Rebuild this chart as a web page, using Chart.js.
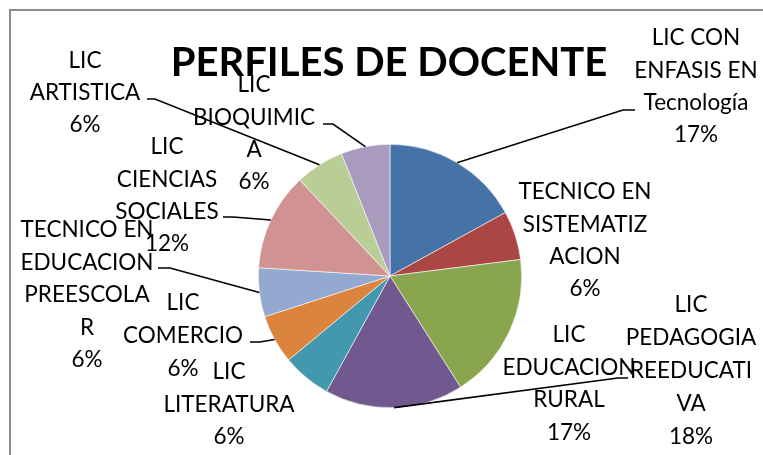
<!DOCTYPE html>
<html>
<head>
<meta charset="utf-8">
<script src="https://cdn.jsdelivr.net/npm/chart.js@4"></script>
<style>
  html, body { margin: 0; padding: 0; background: #fff; }
  #wrap { width: 763px; height: 455px; position: relative; }
</style>
</head>
<body>
<div id="wrap"><canvas id="chartPerfiles" width="763" height="455"></canvas></div>
<script>
// datos del grafico
var categorias = [
    'LIC CON ENFASIS EN Tecnología',
    'TECNICO EN SISTEMATIZACION',
    'LIC PEDAGOGIA REEDUCATIVA',
    'LIC EDUCACION RURAL',
    'LIC LITERATURA',
    'LIC COMERCIO',
    'TECNICO EN EDUCACION PREESCOLAR',
    'LIC CIENCIAS SOCIALES',
    'LIC ARTISTICA',
    'LIC BIOQUIMICA'
];
var valores = [17, 6, 18, 17, 6, 6, 6, 12, 6, 6];
var colores = ['#4572A7', '#AA4643', '#89A54E', '#71588F', '#4198AF',
               '#DB843D', '#93A9CF', '#D19392', '#B9CD96', '#A99BBD'];

// como se parte cada etiqueta (igual que en la hoja)
var lineasEtiqueta = [
    ['LIC CON', 'ENFASIS EN', 'Tecnología'],
    ['TECNICO EN', 'SISTEMATIZ', 'ACION'],
    ['LIC', 'PEDAGOGIA', 'REEDUCATI', 'VA'],
    ['LIC', 'EDUCACION', 'RURAL'],
    ['LIC', 'LITERATURA'],
    ['LIC', 'COMERCIO'],
    ['TECNICO EN', 'EDUCACION', 'PREESCOLA', 'R'],
    ['LIC', 'CIENCIAS', 'SOCIALES'],
    ['LIC', 'ARTISTICA'],
    ['LIC', 'BIOQUIMIC', 'A']
];
// posicion de cada etiqueta (centro de la primera linea) y salto de linea
var posEtiqueta = [
    [696, 38, 32.3], [585, 192, 32.3], [691, 305, 33], [569, 335, 32.5], [229, 372, 32.5],
    [183, 303, 33], [87, 230, 32.5], [167, 147, 32.3], [85, 61, 32], [254, 85, 32.3]
];
// lineas guia: puntos desde la etiqueta hasta el borde del sector
var guias = {
    0: [[635, 110], [623, 110]],
    3: [[628, 378], [618, 378]],
    5: [[250, 342], [260, 342]],
    6: [[158, 268], [170, 268]],
    7: [[223, 217], [233, 217]],
    8: [[147, 99], [155, 99]],
    9: [[323, 124], [333, 124]]
};

var fuente = 'Lato, "Open Sans", sans-serif';

var etiquetasPlugin = {
    id: 'etiquetas',
    afterDraw: function(chart) {
        var ctx = chart.ctx;
        var total = valores.reduce(function(a, b) { return a + b; }, 0);
        var arcos = chart.getDatasetMeta(0).data;
        ctx.save();

        // marco
        ctx.fillStyle = '#8c8c8c';
        ctx.fillRect(9, 9, 763, 2);
        ctx.fillRect(9, 9, 2, 455);

        // titulo
        ctx.fillStyle = '#000';
        ctx.font = 'bold 40px ' + fuente;
        ctx.textAlign = 'center';
        ctx.textBaseline = 'middle';
        ctx.fillText('PERFILES DE DOCENTE', 389, 63);

        // lineas guia
        ctx.strokeStyle = '#000';
        ctx.lineWidth = 1.6;
        Object.keys(guias).forEach(function(k) {
            var arc = arcos[k];
            var ang = (arc.startAngle + arc.endAngle) / 2;
            var px = arc.x + Math.cos(ang) * arc.outerRadius;
            var py = arc.y + Math.sin(ang) * arc.outerRadius;
            ctx.beginPath();
            guias[k].forEach(function(p, i) {
                if (i === 0) ctx.moveTo(p[0], p[1]); else ctx.lineTo(p[0], p[1]);
            });
            ctx.lineTo(px, py);
            ctx.stroke();
        });

        // etiquetas
        ctx.font = '22.5px ' + fuente;
        ctx.fillStyle = '#000';
        lineasEtiqueta.forEach(function(lineas, i) {
            var p = posEtiqueta[i];
            var texto = lineas.concat([Math.round(valores[i] / total * 100) + '%']);
            texto.forEach(function(t, j) {
                ctx.fillText(t, p[0], p[1] + j * p[2]);
            });
        });
        ctx.restore();
    }
};

document.addEventListener('DOMContentLoaded', function() {
    var ctx = document.getElementById('chartPerfiles').getContext('2d');
    new Chart(ctx, {
        type: 'pie',
        data: {
            labels: categorias,
            datasets: [{
                data: valores,
                backgroundColor: colores,
                borderWidth: 0.6,
                borderColor: '#ffffff'
            }]
        },
        options: {
            responsive: false,
            animation: false,
            layout: { padding: { left: 258, right: 241, top: 144, bottom: 47 } },
            plugins: {
                legend: { display: false },
                tooltip: { enabled: false }
            }
        },
        plugins: [etiquetasPlugin]
    });
});
</script>
</body>
</html>
